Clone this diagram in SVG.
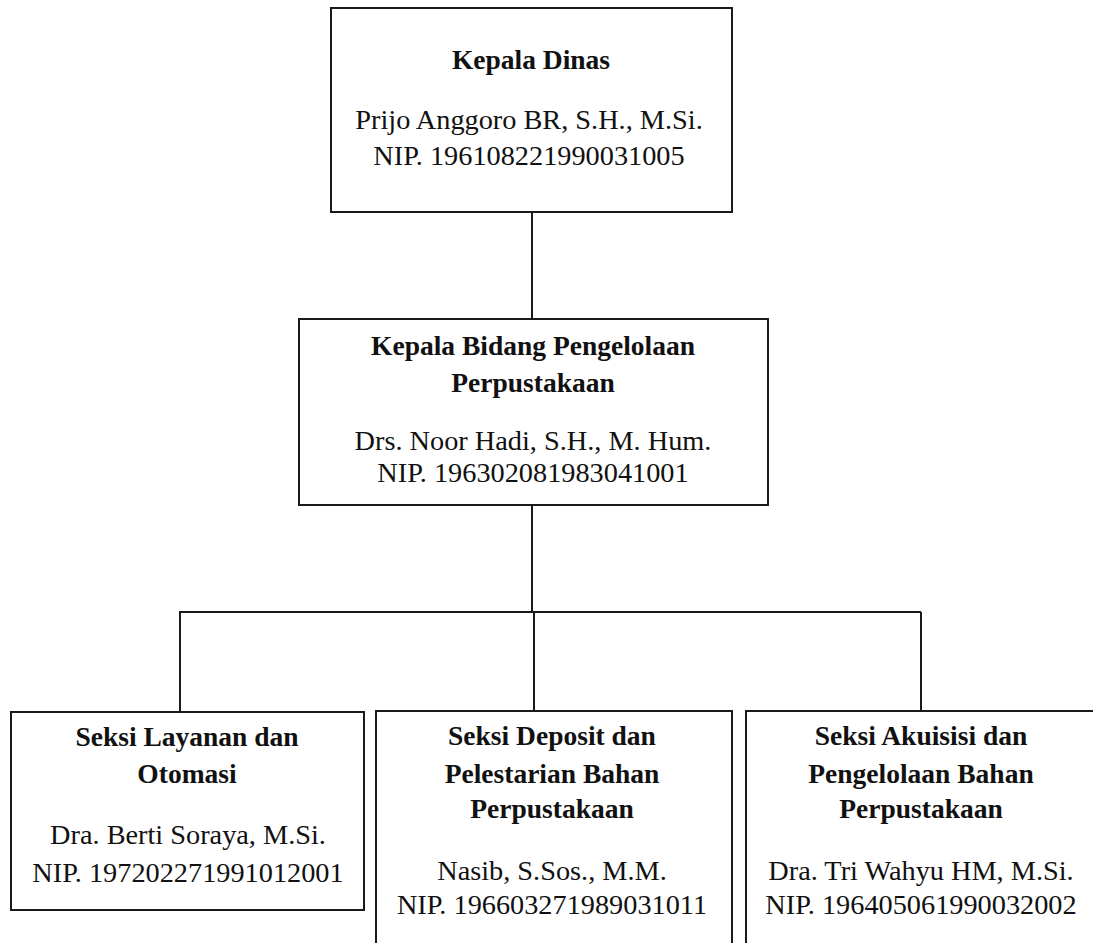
<svg xmlns="http://www.w3.org/2000/svg" width="1093" height="943" viewBox="0 0 1093 943">
<style>
.box{fill:#fff;stroke:#1a1a1a;stroke-width:2}
.t{font-family:"Liberation Serif","Times New Roman",serif;font-size:28.3px;fill:#111;text-anchor:middle}
.b{font-weight:bold;font-size:27.5px}
.c{fill:none;stroke:#1a1a1a;stroke-width:2}
</style>
<rect width="1093" height="943" fill="#fff"/>
<g id="connectors">
<line class="c" x1="532" y1="212" x2="532" y2="319"/>
<line class="c" x1="532" y1="505" x2="532" y2="612"/>
<line class="c" x1="179" y1="612" x2="921" y2="612" stroke="#444"/>
<line class="c" x1="180" y1="612" x2="180" y2="712"/>
<line class="c" x1="534" y1="612" x2="534" y2="711"/>
<line class="c" x1="921" y1="612" x2="921" y2="711"/>
</g>
<g id="kepala-dinas">
<rect class="box" x="331" y="8" width="401" height="204"/>
<text class="t b" x="531" y="69">Kepala Dinas</text>
<text class="t" x="529" y="129">Prijo Anggoro BR, S.H., M.Si.</text>
<text class="t" x="529" y="165">NIP. 196108221990031005</text>
</g>
<g id="kepala-bidang">
<rect class="box" x="299" y="319" width="469" height="186"/>
<text class="t b" x="533" y="355">Kepala Bidang Pengelolaan</text>
<text class="t b" x="533" y="392">Perpustakaan</text>
<text class="t" x="533" y="450">Drs. Noor Hadi, S.H., M. Hum.</text>
<text class="t" x="533" y="482">NIP. 196302081983041001</text>
</g>
<g id="seksi-layanan">
<rect class="box" x="11" y="712" width="353" height="198"/>
<text class="t b" x="187" y="746">Seksi Layanan dan</text>
<text class="t b" x="187" y="783">Otomasi</text>
<text class="t" x="188" y="844">Dra. Berti Soraya, M.Si.</text>
<text class="t" x="188" y="882">NIP. 197202271991012001</text>
</g>
<g id="seksi-deposit">
<rect class="box" x="376" y="711" width="356" height="250"/>
<text class="t b" x="552" y="745">Seksi Deposit dan</text>
<text class="t b" x="552" y="783">Pelestarian Bahan</text>
<text class="t b" x="552" y="818">Perpustakaan</text>
<text class="t" x="552" y="880">Nasib, S.Sos., M.M.</text>
<text class="t" x="552" y="914">NIP. 196603271989031011</text>
</g>
<g id="seksi-akuisisi">
<rect class="box" x="746" y="711" width="360" height="250"/>
<text class="t b" x="921" y="745">Seksi Akuisisi dan</text>
<text class="t b" x="921" y="783">Pengelolaan Bahan</text>
<text class="t b" x="921" y="818">Perpustakaan</text>
<text class="t" x="921" y="880">Dra. Tri Wahyu HM, M.Si.</text>
<text class="t" x="921" y="914">NIP. 196405061990032002</text>
</g>
</svg>
